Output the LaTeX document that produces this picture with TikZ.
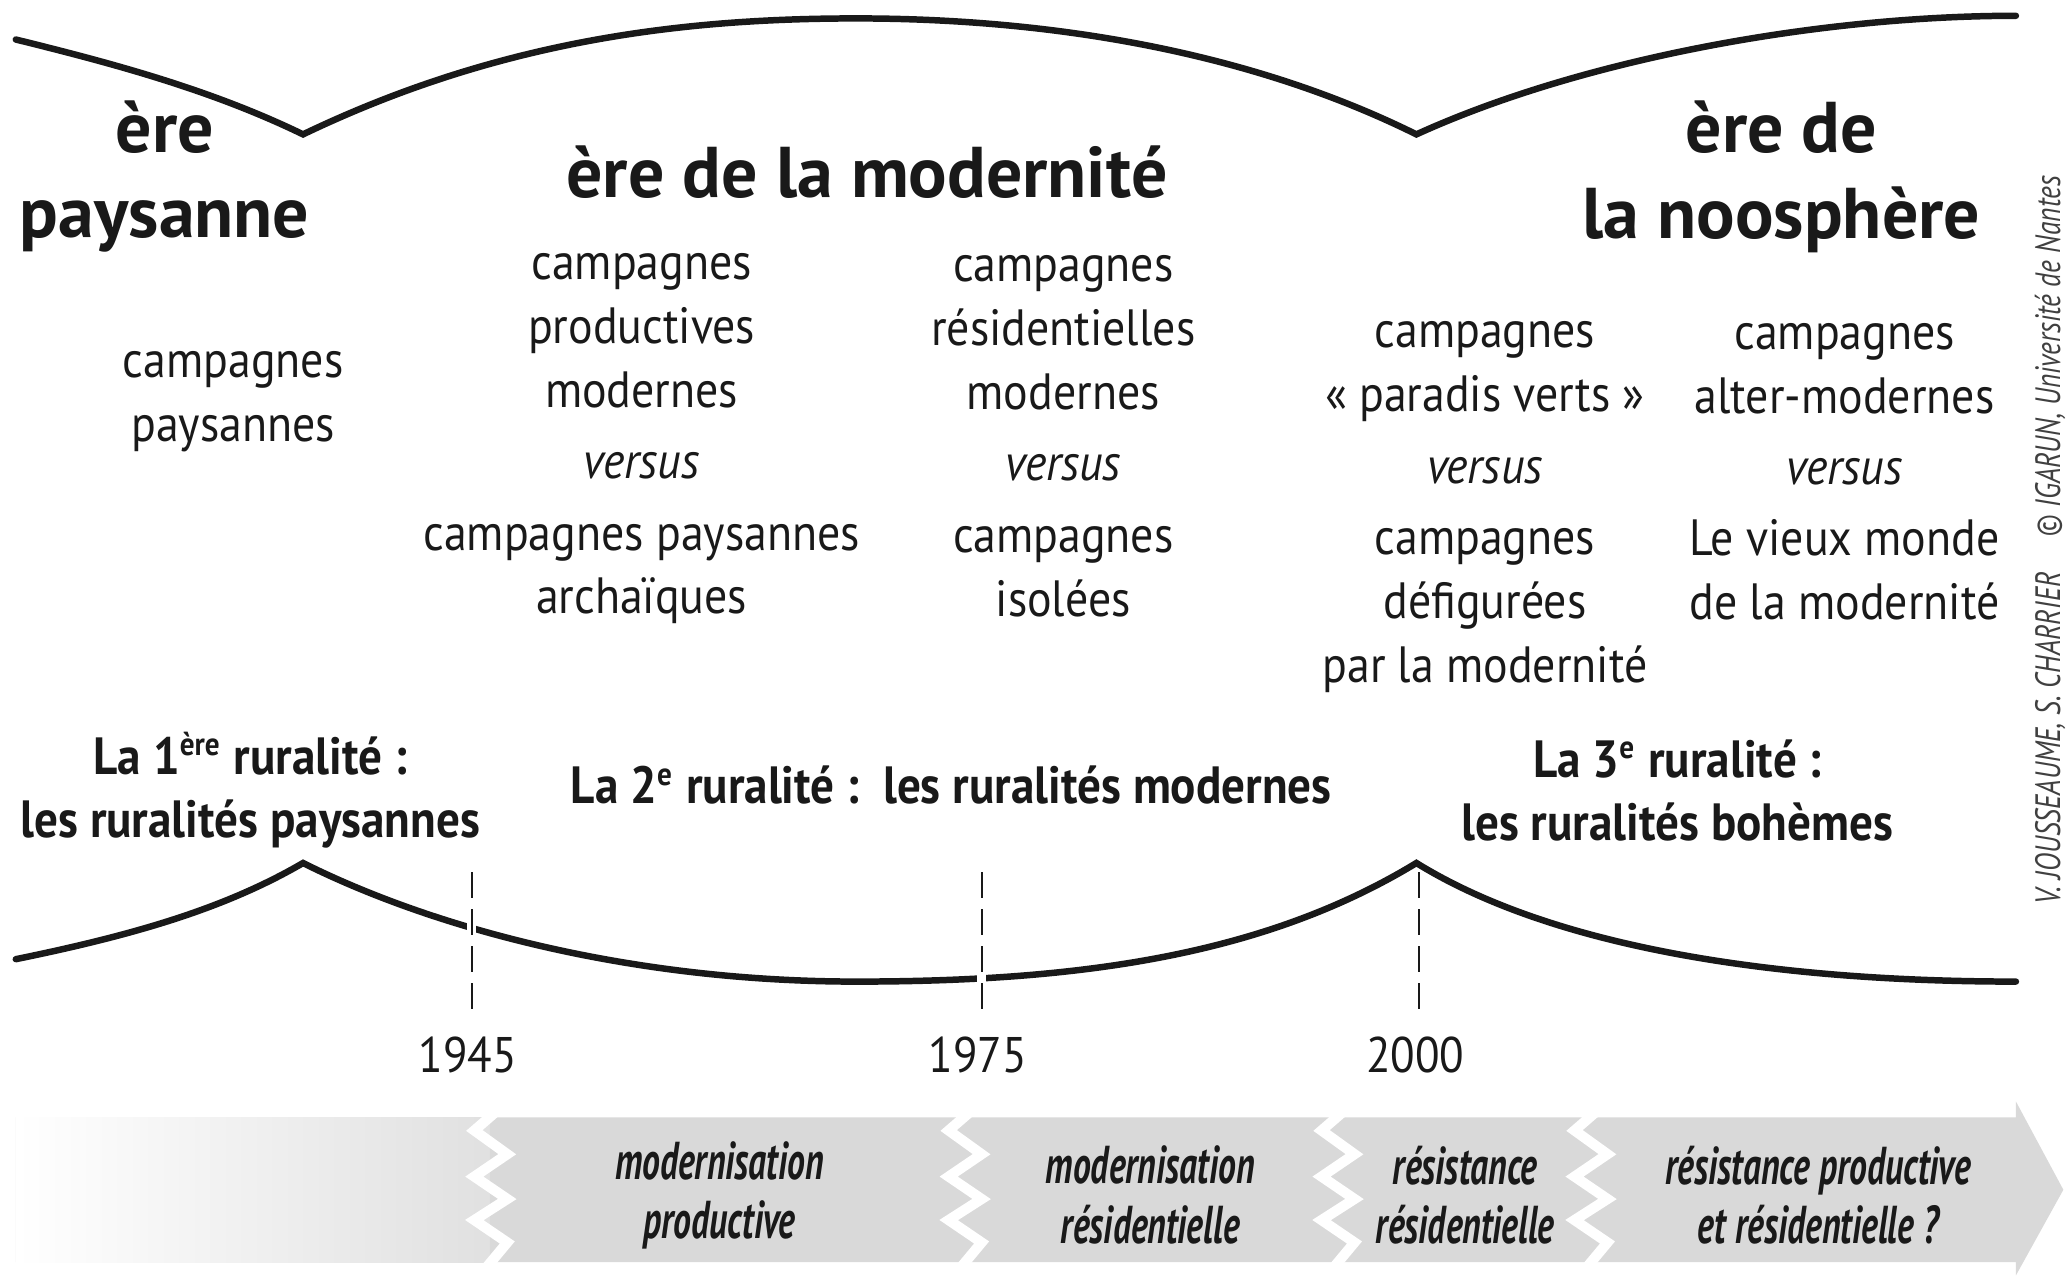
\documentclass[tikz,border=0pt]{standalone}
\usepackage{fontspec}
\setmainfont[FakeStretch=0.9]{PT Sans}
\newfontfamily\erafont{PT Sans}
\newfontfamily\bandfont[FakeStretch=0.67]{PT Sans}
\newfontfamily\creditfont[FakeStretch=0.78]{PT Sans}
\usepackage{xcolor}
\colorlet{myink}{black!90}
\colorlet{mygray}{black!15}
\colorlet{mylightgray}{black!12}
\colorlet{mycredit}{black!75}
\tikzset{
  era/.style={font=\erafont\fontsize{15.5}{18.5}\selectfont\bfseries,myink,align=center,inner sep=0},
  body/.style={font=\fontsize{11}{13.8}\selectfont,myink,align=center,inner sep=0},
  rural/.style={font=\fontsize{11.3}{13.7}\selectfont\bfseries,myink,align=center,inner sep=0},
  year label/.style={font=\fontsize{10.8}{12}\selectfont,myink,inner sep=0},
  band label/.style={font=\bandfont\fontsize{11.5}{12.8}\selectfont\bfseries\itshape,myink,align=center,inner sep=0},
  credit/.style={font=\creditfont\fontsize{7.6}{9}\selectfont\itshape,mycredit,inner sep=0},
  wave/.style={line width=1.4pt,line cap=round,line join=miter,myink},
  year line/.style={line width=0.45pt,myink,dash pattern=on 5.5pt off 2.5pt,
    preaction={draw,white,line width=2pt,solid}},
  cut/.style={white,line width=2.2pt,line join=miter}
}
\begin{document}
\begin{tikzpicture}[x=0.01cm,y=-0.01cm]
  \useasboundingbox (0,0) rectangle (1568,968);
  % upper and lower waves
  \draw[wave] (12,30) .. controls (85,48) and (160,68) .. (230,102)
    .. controls (380,30) and (520,14) .. (650,14)
    .. controls (800,14) and (950,40) .. (1075,102)
    .. controls (1200,45) and (1380,12) .. (1530,12);
  \draw[wave] (12,728) .. controls (100,710) and (170,690) .. (230,655)
    .. controls (330,705) and (480,745) .. (650,745)
    .. controls (820,745) and (960,725) .. (1075,655)
    .. controls (1180,720) and (1350,745) .. (1530,745);
  % eras
  \node[era] (era1) at (125,134) {ère\\paysanne};
  \node[era] (era2) at (658,131) {ère de la modernité};
  \node[era] (era3) at (1352,134) {ère de\\la noosphère};
  % campagnes
  \node[body] (camp0) at (177,305) {campagnes\\paysannes};
  \node[body] (camp1) at (487,333) {campagnes\\productives\\modernes\\[1.6pt]
    \textit{versus}\\[1.6pt]campagnes paysannes\\archaïques};
  \node[body] (camp2) at (807,331) {campagnes\\résidentielles\\modernes\\[1.6pt]
    \textit{versus}\\[1.6pt]campagnes\\isolées};
  \node[body] (camp3) at (1127,385) {campagnes\\«~paradis verts~»\\[1.6pt]
    \textit{versus}\\[1.6pt]campagnes\\défigurées\\par la modernité};
  \node[body] (camp4) at (1400,358) {campagnes\\alter-modernes\\[1.6pt]
    \textit{versus}\\[1.6pt]Le vieux monde\\de la modernité};
  % ruralites
  \node[rural] (rur1) at (190,600) {La 1\textsuperscript{\scriptsize ère} ruralité :\\les ruralités paysannes};
  \node[rural] (rur2) at (722,596) {La 2\textsuperscript{\scriptsize e} ruralité :\ \ les ruralités modernes};
  \node[rural] (rur3) at (1273,600) {La 3\textsuperscript{\scriptsize e} ruralité :\\les ruralités bohèmes};
  % years
  \foreach \x/\yr in {358/1945, 745/1975, 1077/2000} {
    \coordinate (top\yr) at (\x,662);
    \node[year label] (y\yr) at (\x-3,801) {\yr};
    \draw[year line] (top\yr) -- (\x,768);
  }
  % band arrow
  \fill[mygray] (12,848) -- (1530,848) -- (1530,836) -- (1566,903)
    -- (1530,968) -- (1530,958) -- (12,958) -- cycle;
  \shade[left color=white,right color=mylightgray] (12,848) rectangle (372,958);
  \foreach \s in {360,720,1003,1195}
    \draw[cut] ({\s+15},845) -- (\s,858) -- ({\s+25},876) -- (\s,893)
      -- ({\s+25},910) -- (\s,926) -- ({\s+25},943) -- ({\s+10},961);
  \node[band label] (phase1) at (546,907) {modernisation\\productive};
  \node[band label] (phase2) at (873,907) {modernisation\\résidentielle};
  \node[band label] (phase3) at (1112,907) {résistance\\résidentielle};
  \node[band label] (phase4) at (1380,907) {résistance productive\\et résidentielle ?};
  % credit
  \node[credit,rotate=90] (credit) at (1556,410)
    {V. JOUSSEAUME, S. CHARRIER\quad© IGARUN, Université de Nantes};
\end{tikzpicture}
\end{document}
